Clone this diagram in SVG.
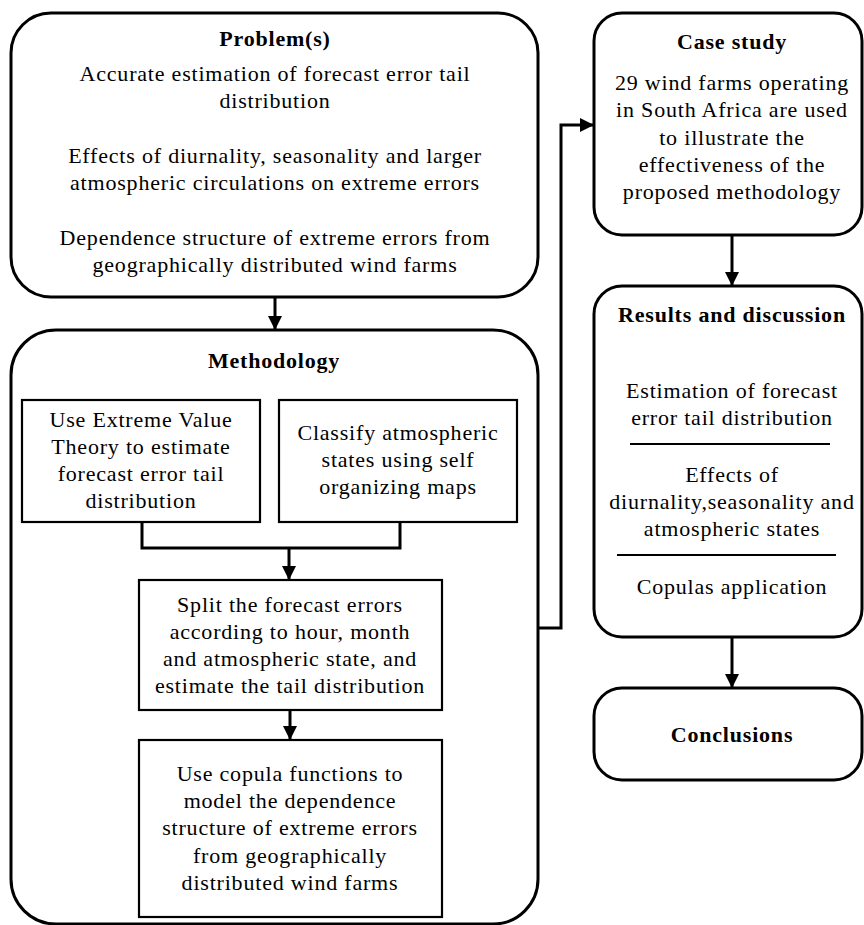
<svg xmlns="http://www.w3.org/2000/svg" width="864" height="925" viewBox="0 0 864 925">
<defs>
<marker id="arr" markerUnits="userSpaceOnUse" markerWidth="14" markerHeight="14" refX="14" refY="7" orient="auto">
<path d="M0,0 L14,7 L0,14 z" fill="#000"/>
</marker>
<style>
.rb{fill:#fff;stroke:#000;stroke-width:3}
.sb{fill:#fff;stroke:#000;stroke-width:2.2}
.c{fill:none;stroke:#000;stroke-width:3}
text{font-family:"Liberation Serif","Times New Roman",serif;font-size:22px;letter-spacing:0.8px;fill:#000;text-anchor:middle}
.t{font-weight:bold}
</style>
</defs>
<rect width="864" height="925" fill="#fff"/>

<g id="problem">
<rect class="rb" x="11" y="13" width="527" height="284" rx="40"/>
<text class="t" x="275" y="46">Problem(s)</text>
<text x="275" y="81">Accurate estimation of forecast error tail</text>
<text x="275" y="108">distribution</text>
<text x="275" y="163">Effects of diurnality, seasonality and larger</text>
<text x="275" y="190">atmospheric circulations on extreme errors</text>
<text x="275" y="245">Dependence structure of extreme errors from</text>
<text x="275" y="272">geographically distributed wind farms</text>
</g>

<g id="methodology">
<rect class="rb" x="11" y="330" width="527" height="594" rx="45"/>
<text class="t" x="274" y="368">Methodology</text>
</g>

<g id="evt">
<rect class="sb" x="22" y="400" width="238" height="122"/>
<text x="141" y="427">Use Extreme Value</text>
<text x="141" y="454">Theory to estimate</text>
<text x="141" y="481">forecast error tail</text>
<text x="141" y="508">distribution</text>
</g>

<g id="som">
<rect class="sb" x="279" y="400" width="238" height="122"/>
<text x="398" y="440">Classify atmospheric</text>
<text x="398" y="467">states using self</text>
<text x="398" y="494">organizing maps</text>
</g>

<g id="split">
<rect class="sb" x="139" y="580" width="303" height="130"/>
<text x="290" y="612">Split the forecast errors</text>
<text x="290" y="639">according to hour, month</text>
<text x="290" y="666">and atmospheric state, and</text>
<text x="290" y="693">estimate the tail distribution</text>
</g>

<g id="copula">
<rect class="sb" x="139" y="740" width="303" height="177"/>
<text x="290" y="781">Use copula functions to</text>
<text x="290" y="808">model the dependence</text>
<text x="290" y="835">structure of extreme errors</text>
<text x="290" y="863">from geographically</text>
<text x="290" y="890">distributed wind farms</text>
</g>

<g id="casestudy">
<rect class="rb" x="594" y="13" width="268" height="222" rx="28"/>
<text class="t" x="732" y="49">Case study</text>
<text x="732" y="90">29 wind farms operating</text>
<text x="732" y="117">in South Africa are used</text>
<text x="732" y="145">to illustrate the</text>
<text x="732" y="172">effectiveness of the</text>
<text x="732" y="199">proposed methodology</text>
</g>

<g id="results">
<rect class="rb" x="594" y="286" width="268" height="351" rx="28"/>
<text class="t" x="732" y="322">Results and discussion</text>
<text x="732" y="398">Estimation of forecast</text>
<text x="732" y="425">error tail distribution</text>
<line x1="630" y1="444" x2="830" y2="444" stroke="#000" stroke-width="2"/>
<text x="732" y="482">Effects of</text>
<text x="732" y="509">diurnality,seasonality and</text>
<text x="732" y="536">atmospheric states</text>
<line x1="617" y1="555" x2="836" y2="555" stroke="#000" stroke-width="2"/>
<text x="732" y="594">Copulas application</text>
</g>

<g id="conclusions">
<rect class="rb" x="594" y="688" width="268" height="92" rx="28"/>
<text class="t" x="732" y="742">Conclusions</text>
</g>

<g id="connectors">
<line class="c" x1="275" y1="297" x2="275" y2="330" marker-end="url(#arr)"/>
<polyline class="c" points="142,522 142,548 400,548 400,522"/>
<line class="c" x1="289" y1="548" x2="289" y2="580" marker-end="url(#arr)"/>
<line class="c" x1="290" y1="710" x2="290" y2="740" marker-end="url(#arr)"/>
<polyline class="c" points="538,628 561,628 561,125 594,125" marker-end="url(#arr)"/>
<line class="c" x1="732" y1="235" x2="732" y2="286" marker-end="url(#arr)"/>
<line class="c" x1="732" y1="637" x2="732" y2="688" marker-end="url(#arr)"/>
</g>
</svg>
